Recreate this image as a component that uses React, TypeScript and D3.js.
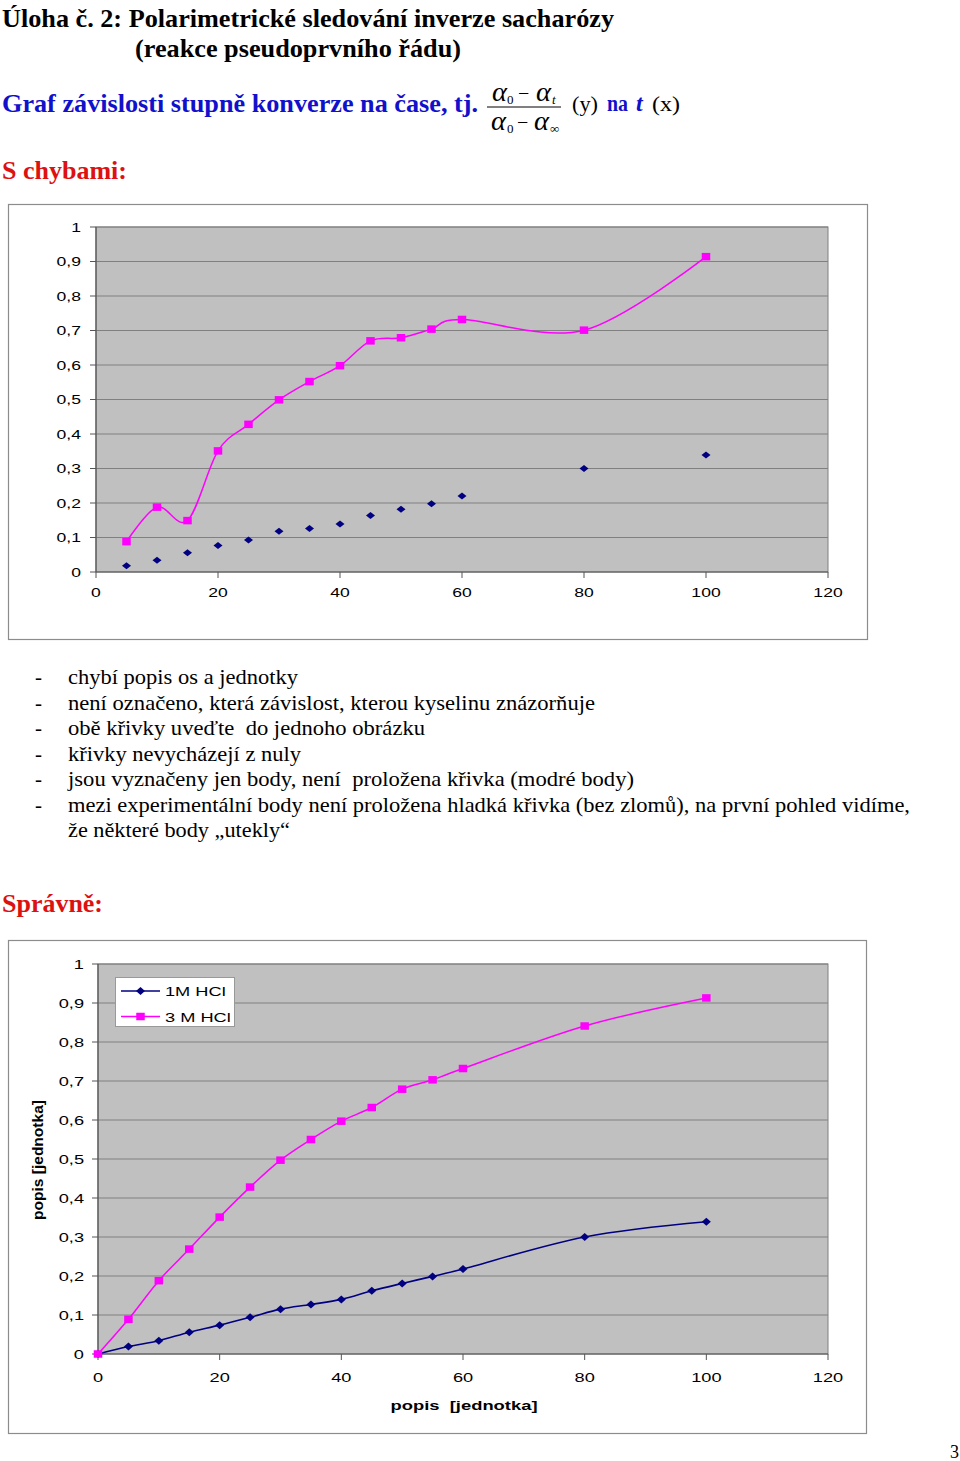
import React from "react";
import * as d3 from "d3";

// ---------- data ----------
const timeWrong = [5, 10, 15, 20, 25, 30, 35, 40, 45, 50, 55, 60, 80, 100];
const wrong3M = [0.088, 0.188, 0.149, 0.351, 0.428, 0.499, 0.552, 0.598, 0.67, 0.679, 0.704, 0.732, 0.701, 0.914];
const wrong1M = [0.018, 0.034, 0.056, 0.077, 0.093, 0.118, 0.126, 0.139, 0.164, 0.182, 0.198, 0.22, 0.3, 0.339];

const timeOk = [0, 5, 10, 15, 20, 25, 30, 35, 40, 45, 50, 55, 60, 80, 100];
const ok3M = [0, 0.089, 0.188, 0.269, 0.351, 0.428, 0.497, 0.55, 0.597, 0.632, 0.679, 0.703, 0.732, 0.841, 0.913];
const ok1M = [0, 0.019, 0.034, 0.056, 0.074, 0.094, 0.115, 0.127, 0.14, 0.162, 0.181, 0.199, 0.218, 0.3, 0.339];

const yTickValues = [0, 0.1, 0.2, 0.3, 0.4, 0.5, 0.6, 0.7, 0.8, 0.9, 1];
const yTickLabels = ["0", "0,1", "0,2", "0,3", "0,4", "0,5", "0,6", "0,7", "0,8", "0,9", "1"];
const xTickValues = [0, 20, 40, 60, 80, 100, 120];
const xTickLabels = ["0", "20", "40", "60", "80", "100", "120"];

const seriesNames = ["1M HCl", "3 M HCl"];

const bullets = [
  "chybí popis os a jednotky",
  "není označeno, která závislost, kterou kyselinu znázorňuje",
  "obě křivky uveďte  do jednoho obrázku",
  "křivky nevycházejí z nuly",
  "jsou vyznačeny jen body, není  proložena křivka (modré body)",
  "mezi experimentální body není proložena hladká křivka (bez zlomů), na první pohled vidíme,",
  "že některé body „utekly“",
];
const bulletWidths = [230, 527, 357, 233, 566, 842, 222];
const bulletDash = [true, true, true, true, true, true, false];

// ---------- styles ----------
const PINK = "#FF00FF";
const NAVY = "#000080";
const PLOT_BG = "#C0C0C0";
const GRID = "#808080";
const SERIF = "'Liberation Serif', 'Times New Roman', serif";
const SANS = "'Liberation Sans', Arial, sans-serif";
const HEAD_BLUE = "#1111CC";
const HEAD_RED = "#DD1111";
const SX = 1.35; // horizontal stretch of chart texts

const smooth = d3.curveCardinal.tension(0);

function Square({ x, y, s }: { x: number; y: number; s: number }) {
  return <rect x={x - s / 2} y={y - s / 2 + 0.5} width={s} height={s - 1} fill={PINK} />;
}
function Diamond({ x, y, w, h }: { x: number; y: number; w: number; h: number }) {
  return (
    <path
      d={`M${x - w / 2},${y}L${x},${y - h / 2}L${x + w / 2},${y}L${x},${y + h / 2}Z`}
      fill={NAVY}
    />
  );
}

type ChartProps = {
  frame: [number, number, number, number];
  plot: [number, number, number, number]; // left, top, right, bottom
  yLabelX: number;
  xLabelY: number;
  fontSize: number;
  children: (x: d3.ScaleLinear<number, number>, y: d3.ScaleLinear<number, number>) => React.ReactNode;
};

function Chart({ frame, plot, yLabelX, xLabelY, fontSize, children }: ChartProps) {
  const [fl, ft, fr, fb] = frame;
  const [pl, pt, pr, pb] = plot;
  const x = d3.scaleLinear().domain([0, 120]).range([pl, pr]);
  const y = d3.scaleLinear().domain([0, 1]).range([pb, pt]);
  return (
    <g>
      <rect x={fl + 0.5} y={ft + 0.5} width={fr - fl} height={fb - ft} fill="#fff" stroke="#8c8c8c" strokeWidth={1.2} />
      <rect x={pl} y={pt} width={pr - pl} height={pb - pt} fill={PLOT_BG} stroke={GRID} strokeWidth={1} />
      {yTickValues.map((v, i) => (
        <g key={"y" + i}>
          {i > 0 && <line x1={pl} x2={pr} y1={y(v)} y2={y(v)} stroke={GRID} strokeWidth={1.2} />}
          <line x1={pl - 6} x2={pl} y1={y(v)} y2={y(v)} stroke="#555" strokeWidth={1} />
          <text
            transform={`translate(${yLabelX},${y(v) + fontSize * 0.36}) scale(${SX},1)`}
            textAnchor="end"
            fontFamily={SANS}
            fontSize={fontSize}
            fill="#000"
          >
            {yTickLabels[i]}
          </text>
        </g>
      ))}
      {xTickValues.map((v, i) => (
        <g key={"x" + i}>
          <line x1={x(v)} x2={x(v)} y1={pb} y2={pb + 6} stroke="#555" strokeWidth={1} />
          <text
            transform={`translate(${x(v)},${xLabelY + fontSize * 0.36}) scale(${SX},1)`}
            textAnchor="middle"
            fontFamily={SANS}
            fontSize={fontSize}
            fill="#000"
          >
            {xTickLabels[i]}
          </text>
        </g>
      ))}
      <line x1={pl} x2={pl} y1={pt} y2={pb} stroke="#555" strokeWidth={1.2} />
      <line x1={pl} x2={pr} y1={pb} y2={pb} stroke="#555" strokeWidth={1.2} />
      {children(x, y)}
    </g>
  );
}

export default function App() {
  const lineGen = (xs: number[], ys: number[], x: any, y: any) =>
    d3
      .line<number>()
      .x((_, i) => x(xs[i]))
      .y((d) => y(d))
      .curve(smooth)(ys) || "";

  const headerTexts = (
    <g fontFamily={SERIF}>
      <text x={2} y={27} fontSize={26} fontWeight="bold" textLength={612} lengthAdjust="spacingAndGlyphs">
        Úloha č. 2: Polarimetrické sledování inverze sacharózy
      </text>
      <text x={135} y={57} fontSize={26} fontWeight="bold" textLength={326} lengthAdjust="spacingAndGlyphs">
        (reakce pseudoprvního řádu)
      </text>
      <text x={2} y={112} fontSize={26} fontWeight="bold" fill={HEAD_BLUE} textLength={476} lengthAdjust="spacingAndGlyphs">
        Graf závislosti stupně konverze na čase, tj.
      </text>
      {/* fraction */}
      <g fontSize={27}>
        <text x={492} y={101} fontStyle="italic" textLength={15} lengthAdjust="spacingAndGlyphs">α</text>
        <text x={507} y={104} fontSize={13}>0</text>
        <text x={518} y={100} fontSize={20}>−</text>
        <text x={536} y={101} fontStyle="italic" textLength={15} lengthAdjust="spacingAndGlyphs">α</text>
        <text x={552} y={104} fontSize={13} fontStyle="italic">t</text>
        <line x1={487} x2={561} y1={107} y2={107} stroke="#000" strokeWidth={1} />
        <text x={491} y={130} fontStyle="italic" textLength={15} lengthAdjust="spacingAndGlyphs">α</text>
        <text x={507} y={133} fontSize={13}>0</text>
        <text x={517} y={129} fontSize={20}>−</text>
        <text x={534} y={130} fontStyle="italic" textLength={15} lengthAdjust="spacingAndGlyphs">α</text>
        <text x={550} y={133} fontSize={13}>∞</text>
      </g>
      <text x={572} y={111} fontSize={22} textLength={26} lengthAdjust="spacingAndGlyphs">(y)</text>
      <text x={607} y={111} fontSize={24} fontWeight="bold" fill={HEAD_BLUE} textLength={21} lengthAdjust="spacingAndGlyphs">na</text>
      <text x={636} y={111} fontSize={24} fontWeight="bold" fontStyle="italic" fill={HEAD_BLUE}>t</text>
      <text x={652} y={111} fontSize={22} textLength={28} lengthAdjust="spacingAndGlyphs">(x)</text>
      <text x={2} y={179} fontSize={26} fontWeight="bold" fill={HEAD_RED} textLength={125} lengthAdjust="spacingAndGlyphs">
        S chybami:
      </text>
      {bullets.map((b, i) => (
        <g key={i}>
          {bulletDash[i] && (
            <text x={35} y={684 + i * 25.5} fontSize={21}>-</text>
          )}
          <text
            x={68}
            y={684 + i * 25.5}
            fontSize={21}
            textLength={bulletWidths[i]}
            lengthAdjust="spacingAndGlyphs"
            style={{ whiteSpace: "pre" }}
          >
            {b}
          </text>
        </g>
      ))}
      <text x={2} y={912} fontSize={26} fontWeight="bold" fill={HEAD_RED} textLength={101} lengthAdjust="spacingAndGlyphs">
        Správně:
      </text>
      <text x={959} y={1458} fontSize={18} textAnchor="end">3</text>
    </g>
  );

  return (
    <svg
      width={960}
      height={1461}
      style={{ position: "absolute", left: 0, top: 0, background: "#fff" }}
    >
      <rect x={0} y={0} width={960} height={1461} fill="#fff" />
      {headerTexts}

      {/* Chart 1: with errors */}
      <Chart frame={[8, 204, 867, 639]} plot={[96, 227, 828, 572]} yLabelX={81} xLabelY={592} fontSize={13}>
        {(x, y) => (
          <g>
            <path d={lineGen(timeWrong, wrong3M, x, y)} fill="none" stroke={PINK} strokeWidth={1.5} />
            {wrong3M.map((v, i) => (
              <Square key={"p" + i} x={x(timeWrong[i])} y={y(v)} s={8.5} />
            ))}
            {wrong1M.map((v, i) => (
              <Diamond key={"b" + i} x={x(timeWrong[i])} y={y(v)} w={9} h={7} />
            ))}
          </g>
        )}
      </Chart>

      {/* Chart 2: correct */}
      <Chart frame={[8, 940, 866, 1433]} plot={[98, 964, 828, 1354]} yLabelX={84} xLabelY={1377} fontSize={13.5}>
        {(x, y) => (
          <g>
            <path d={lineGen(timeOk, ok1M, x, y)} fill="none" stroke={NAVY} strokeWidth={1.6} />
            <path d={lineGen(timeOk, ok3M, x, y)} fill="none" stroke={PINK} strokeWidth={1.5} />
            {ok1M.map((v, i) => (
              <Diamond key={"b" + i} x={x(timeOk[i])} y={y(v)} w={9} h={8} />
            ))}
            {ok3M.map((v, i) => (
              <Square key={"p" + i} x={x(timeOk[i])} y={y(v)} s={8.5} />
            ))}
            {/* legend */}
            <rect x={115.5} y={977.5} width={119} height={49} fill="#fff" stroke="#999" strokeWidth={1} />
            <line x1={121} x2={160} y1={991} y2={991} stroke={NAVY} strokeWidth={1.6} />
            <Diamond x={140.5} y={991} w={9} h={8} />
            <line x1={121} x2={160} y1={1016.5} y2={1016.5} stroke={PINK} strokeWidth={1.5} />
            <Square x={140.5} y={1016.5} s={8.5} />
            {seriesNames.map((n, i) => (
              <text
                key={n}
                transform={`translate(165,${991 + i * 25.5 + 5}) scale(${SX},1)`}
                fontFamily={SANS}
                fontSize={13.5}
              >
                {n}
              </text>
            ))}
            <text
              x={464}
              y={1410}
              textAnchor="middle"
              fontFamily={SANS}
              fontSize={13.5}
              fontWeight="bold"
              textLength={147}
              lengthAdjust="spacingAndGlyphs"
              style={{ whiteSpace: "pre" }}
            >
              popis  [jednotka]
            </text>
            <text
              transform="translate(43,1160) rotate(-90)"
              textAnchor="middle"
              fontFamily={SANS}
              fontSize={15}
              fontWeight="bold"
              textLength={120}
              lengthAdjust="spacingAndGlyphs"
            >
              popis [jednotka]
            </text>
          </g>
        )}
      </Chart>
    </svg>
  );
}
